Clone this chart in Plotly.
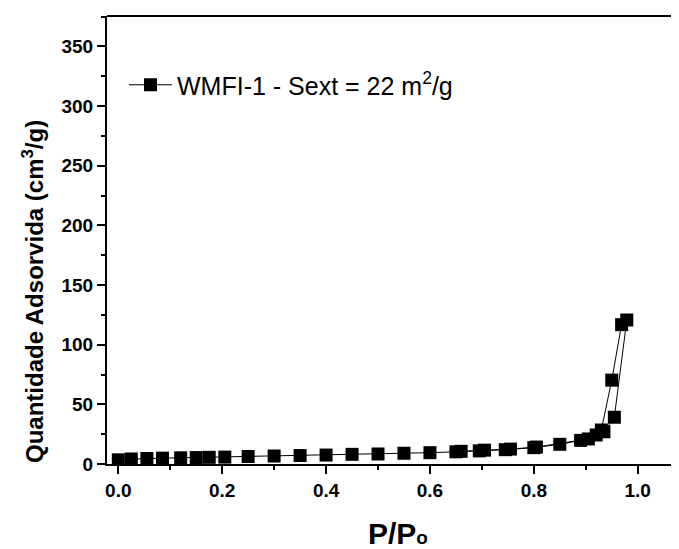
import plotly.graph_objects as go

# Adsorption branch
p_ads = [0.0, 0.025, 0.055, 0.085, 0.12, 0.15, 0.175, 0.205, 0.25, 0.30, 0.35, 0.40,
         0.45, 0.50, 0.55, 0.60, 0.65, 0.695, 0.745, 0.80, 0.85, 0.89, 0.92, 0.93,
         0.95, 0.969, 0.979]
q_ads = [3.5, 4.2, 4.6, 4.9, 5.2, 5.4, 5.6, 5.8, 6.3, 6.7, 7.1, 7.5,
         8.1, 8.4, 9.0, 9.5, 10.2, 11.0, 12.0, 13.7, 16.5, 19.8, 24.3, 28.5,
         70.3, 116.8, 120.7]
# Desorption branch
p_des = [0.955, 0.935, 0.905, 0.805, 0.755, 0.705, 0.66]
q_des = [39.2, 27.0, 21.0, 14.2, 12.5, 11.6, 10.6]

series_name = "WMFI-1 - Sext = 22 m<sup>2</sup>/g"
x_title = "P/P<span style='font-size:19px'>o</span>"
y_title = "Quantidade Adsorvida (cm<sup>3</sup>/g)"

FONT = "Liberation Sans, Arial, sans-serif"

# page body has an 8px margin; layout numbers below are in figure pixels
L, R, T, B = 99, 8, 8, 93
W, H = 679, 549
PW, PH = W - L - R, H - T - B

fig = go.Figure()
fig.add_trace(go.Scatter(
    x=p_ads + p_des, y=q_ads + q_des,
    mode="lines+markers",
    name=series_name,
    line=dict(color="black", width=1),
    marker=dict(symbol="square", size=13, color="black"),
))

fig.update_layout(
    width=W, height=H,
    margin=dict(l=L, r=R, t=T, b=B, autoexpand=False),
    paper_bgcolor="white", plot_bgcolor="white",
    font=dict(family=FONT, color="black"),
    showlegend=True,
    legend=dict(x=(116 - L) / PW, y=(T + PH - 77) / PH, xanchor="left", yanchor="middle",
                font=dict(size=25, family=FONT), bgcolor="rgba(0,0,0,0)",
                itemwidth=43),
    xaxis=dict(range=[-0.0218, 1.0795], showline=True, linecolor="black", linewidth=2,
               mirror=False, showgrid=False, zeroline=False, automargin=False,
               ticks="outside", ticklen=8, tickwidth=2, tickcolor="black",
               tick0=0, dtick=0.2, tickformat=".1f",
               tickfont=dict(size=19, family=FONT, weight="bold"),
               minor=dict(ticks="outside", ticklen=4, tickwidth=2, tickcolor="black", dtick=0.1, tick0=0)),
    yaxis=dict(range=[0, 375.5], showline=True, linecolor="black", linewidth=2,
               mirror=False, showgrid=False, zeroline=False, automargin=False,
               ticks="outside", ticklen=8, tickwidth=2, tickcolor="black",
               tick0=0, dtick=50,
               tickfont=dict(size=19, family=FONT, weight="bold"),
               minor=dict(ticks="outside", ticklen=4, tickwidth=2, tickcolor="black", dtick=25, tick0=0)),
    shapes=[dict(type="line", xref="paper", yref="paper", x0=0, x1=1.02, y0=1, y1=1,
                 line=dict(color="black", width=2))],
    annotations=[
        dict(text=x_title, xref="paper", yref="paper", x=(390 - L) / PW, y=(T + PH - 525) / PH,
             xanchor="center", yanchor="middle", showarrow=False,
             font=dict(size=30, family=FONT, weight="bold")),
        dict(text=y_title, xref="paper", yref="paper", x=(25 - L) / PW, y=(T + PH - 284) / PH,
             xanchor="center", yanchor="middle", showarrow=False, textangle=-90,
             font=dict(size=24, family=FONT, weight="bold")),
    ],
)

fig.write_html("out.html")
